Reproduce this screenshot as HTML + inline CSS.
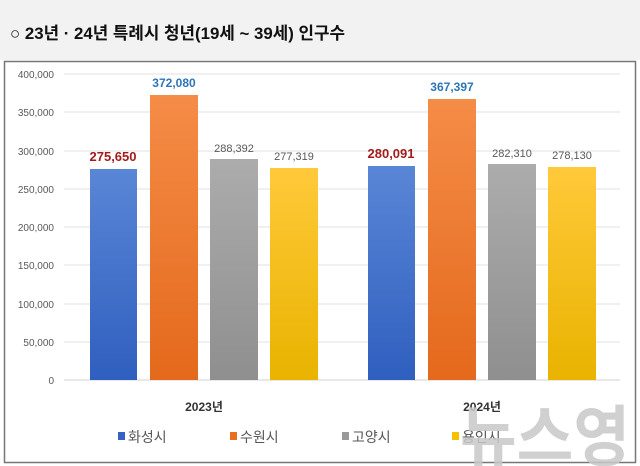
<!DOCTYPE html>
<html><head><meta charset="utf-8"><style>
html,body{margin:0;padding:0;background:#fff;}
svg{display:block;}
</style></head><body>
<svg width="640" height="466" viewBox="0 0 640 466" xmlns="http://www.w3.org/2000/svg" font-family="'Liberation Sans','Noto Sans CJK KR',sans-serif">
<defs>
<linearGradient id="gb" x1="0" y1="0" x2="0" y2="1"><stop offset="0" stop-color="#5a86d6"/><stop offset="1" stop-color="#2f5fbf"/></linearGradient>
<linearGradient id="go" x1="0" y1="0" x2="0" y2="1"><stop offset="0" stop-color="#f58c47"/><stop offset="1" stop-color="#e4691c"/></linearGradient>
<linearGradient id="gg" x1="0" y1="0" x2="0" y2="1"><stop offset="0" stop-color="#acacac"/><stop offset="1" stop-color="#8f8f8f"/></linearGradient>
<linearGradient id="gy" x1="0" y1="0" x2="0" y2="1"><stop offset="0" stop-color="#ffc93a"/><stop offset="1" stop-color="#e9b300"/></linearGradient>
</defs>
<rect x="0" y="0" width="640" height="60" fill="#f2f2f2"/>
<text x="10" y="39" font-size="17" font-weight="bold" fill="#111" textLength="335" lengthAdjust="spacingAndGlyphs">○ 23년 · 24년 특례시 청년(19세 ~ 39세) 인구수</text>
<rect x="4.5" y="61.5" width="631" height="401" fill="#fff" stroke="#777" stroke-width="1.5"/>
<g stroke="#e0e0e0" stroke-width="1">
<line x1="64" y1="74" x2="620" y2="74"/><line x1="64" y1="112" x2="620" y2="112"/>
<line x1="64" y1="151" x2="620" y2="151"/><line x1="64" y1="189" x2="620" y2="189"/>
<line x1="64" y1="227" x2="620" y2="227"/><line x1="64" y1="265" x2="620" y2="265"/>
<line x1="64" y1="304" x2="620" y2="304"/><line x1="64" y1="342" x2="620" y2="342"/>
<line x1="64" y1="380" x2="620" y2="380" stroke="#d0d0d0"/>
</g>
<g font-size="10" fill="#595959" text-anchor="end">
<text x="54" y="78">400,000</text><text x="54" y="116">350,000</text><text x="54" y="155">300,000</text>
<text x="54" y="193">250,000</text><text x="54" y="231">200,000</text><text x="54" y="269">150,000</text>
<text x="54" y="308">100,000</text><text x="54" y="346">50,000</text><text x="54" y="384">0</text>
</g>
<rect x="90" y="169" width="47" height="211" fill="url(#gb)"/>
<rect x="150" y="95" width="48" height="285" fill="url(#go)"/>
<rect x="210" y="159" width="48" height="221" fill="url(#gg)"/>
<rect x="270" y="168" width="48" height="212" fill="url(#gy)"/>
<rect x="368" y="166" width="47" height="214" fill="url(#gb)"/>
<rect x="428" y="99" width="48" height="281" fill="url(#go)"/>
<rect x="488" y="164" width="48" height="216" fill="url(#gg)"/>
<rect x="548" y="167" width="48" height="213" fill="url(#gy)"/>
<g text-anchor="middle">
<text x="113" y="161" font-size="13" font-weight="bold" fill="#a31c1c">275,650</text>
<text x="174" y="87" font-size="12" font-weight="bold" fill="#2e75b6">372,080</text>
<text x="234" y="152" font-size="11" fill="#595959">288,392</text>
<text x="294" y="160" font-size="11" fill="#595959">277,319</text>
<text x="391" y="158" font-size="13" font-weight="bold" fill="#a31c1c">280,091</text>
<text x="452" y="91" font-size="12" font-weight="bold" fill="#2e75b6">367,397</text>
<text x="512" y="157" font-size="11" fill="#595959">282,310</text>
<text x="572" y="159" font-size="11" fill="#595959">278,130</text>
<text x="204" y="411" font-size="12" font-weight="bold" fill="#333">2023년</text>
<text x="482" y="411" font-size="12" font-weight="bold" fill="#333">2024년</text>
</g>
<g font-size="14" fill="#555">
<rect x="118" y="432" width="7" height="8" fill="#3563c3"/><text x="128" y="442">화성시</text>
<rect x="230" y="432" width="7" height="8" fill="#ea6e1f"/><text x="240" y="442">수원시</text>
<rect x="342" y="432" width="7" height="8" fill="#999"/><text x="352" y="442">고양시</text>
<rect x="452" y="432" width="7" height="8" fill="#f6c000"/><text x="462" y="442">용인시</text>
</g>
<text x="630" y="460" font-size="66" font-weight="bold" fill="#c8c8c8" fill-opacity="0.85" text-anchor="end" textLength="170" lengthAdjust="spacingAndGlyphs">뉴스영</text>
</svg>
</body></html>
